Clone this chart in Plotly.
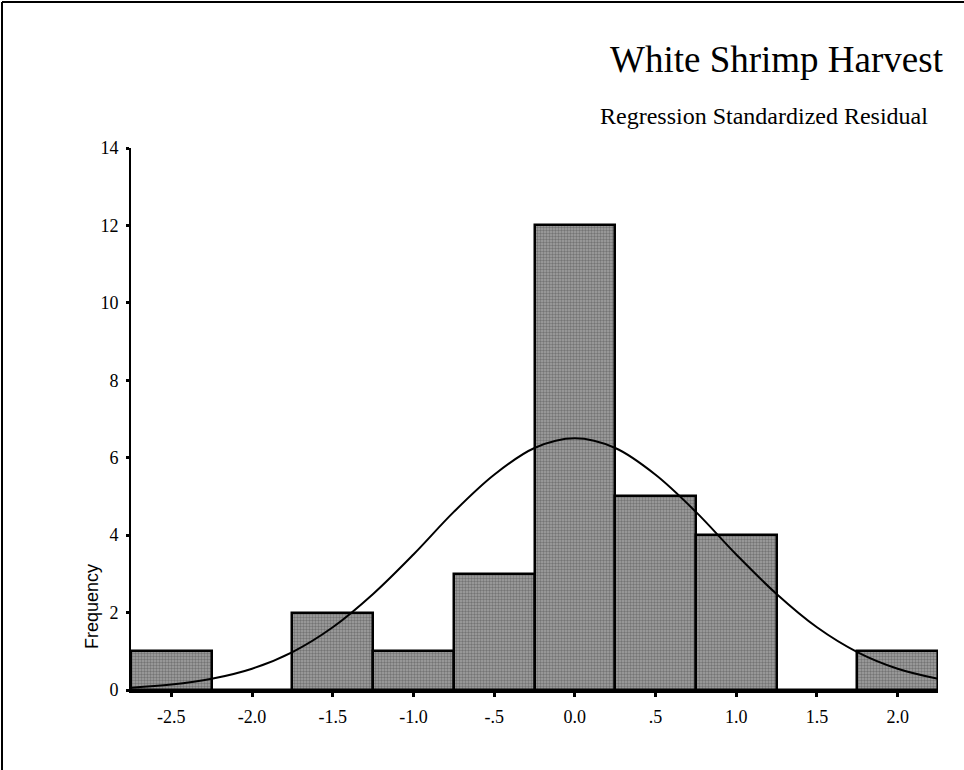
import plotly.graph_objects as go

# Histogram bins (centres) and frequencies
bin_centers = [-2.5, -2.0, -1.5, -1.0, -0.5, 0.0, 0.5, 1.0, 1.5, 2.0]
frequencies = [1, 0, 2, 1, 3, 12, 5, 4, 0, 1]
bin_width = 0.5

# Normal curve
curve_x = [-2.75, -2.5, -2.25, -2.0, -1.75, -1.5, -1.25, -1.0, -0.75, -0.5, -0.25,
           0.0, 0.25, 0.5, 0.75, 1.0, 1.25, 1.5, 1.75, 2.0, 2.25]
curve_y = [0.06, 0.14, 0.29, 0.55, 0.98, 1.62, 2.48, 3.5, 4.6, 5.56, 6.25,
           6.5, 6.25, 5.56, 4.6, 3.5, 2.48, 1.62, 0.98, 0.55, 0.29]

x_tick_vals = [-2.5, -2.0, -1.5, -1.0, -0.5, 0.0, 0.5, 1.0, 1.5, 2.0]
x_tick_text = ["-2.5", "-2.0", "-1.5", "-1.0", "-.5", "0.0", ".5", "1.0", "1.5", "2.0"]
y_tick_vals = [0, 2, 4, 6, 8, 10, 12, 14]

title_text = "White Shrimp Harvest"
subtitle_text = "Regression Standardized Residual"
y_label = "Frequency"

serif = "Liberation Serif, Times New Roman, serif"
sans = "Liberation Sans, Arial, sans-serif"

fig = go.Figure()
fig.add_trace(go.Bar(
    x=bin_centers, y=frequencies, width=bin_width,
    marker=dict(
        color="#8e8e8e",
        line=dict(color="black", width=2.5),
        pattern=dict(shape=".", fgcolor="#454545", bgcolor="#a2a2a2", size=3, solidity=0.5),
    ),
    showlegend=False, hoverinfo="x+y",
))
fig.add_trace(go.Scatter(
    x=curve_x, y=curve_y, mode="lines",
    line=dict(color="black", width=2, shape="spline", smoothing=1.0),
    showlegend=False,
))

W, H = 964, 770
L, R, T, B = 131, 26, 148, 80
pw, ph = W - L - R, H - T - B

def px(xp):
    return (xp - L) / pw

def py(yp):
    return (H - B - yp) / ph

fig.update_layout(
    width=W, height=H,
    margin=dict(l=L, r=R, t=T, b=B),
    paper_bgcolor="white", plot_bgcolor="white",
    bargap=0,
    xaxis=dict(
        range=[-2.75, 2.25], tickvals=x_tick_vals, ticktext=x_tick_text,
        showgrid=False, zeroline=False,
        showline=True, linecolor="black", linewidth=3,
        ticks="outside", ticklen=4, tickwidth=3, tickcolor="black",
        ticklabelstandoff=4,
        tickfont=dict(family=serif, size=18, color="black"),
    ),
    yaxis=dict(
        range=[0, 14], tickvals=y_tick_vals,
        showgrid=False, zeroline=False,
        showline=True, linecolor="black", linewidth=2,
        ticks="outside", ticklen=3, tickwidth=3, tickcolor="black",
        ticklabelstandoff=4,
        tickfont=dict(family=serif, size=18, color="black"),
    ),
    shapes=[
        dict(type="line", xref="paper", yref="paper", x0=px(2), x1=px(2), y0=py(2), y1=py(770), line=dict(color="black", width=2)),
        dict(type="line", xref="paper", yref="paper", x0=px(2), x1=px(964), y0=py(2), y1=py(2), line=dict(color="black", width=2)),
    ],
    annotations=[
        dict(text=title_text, xref="paper", yref="paper", x=px(946), y=py(60),
             xanchor="right", yanchor="middle", showarrow=False,
             font=dict(family=serif, size=37, color="black")),
        dict(text=subtitle_text, xref="paper", yref="paper", x=px(930), y=py(116),
             xanchor="right", yanchor="middle", showarrow=False,
             font=dict(family=serif, size=24, color="black")),
        dict(text=y_label, xref="paper", yref="paper", x=px(92), y=py(607),
             xanchor="center", yanchor="middle", showarrow=False, textangle=-90,
             font=dict(family=sans, size=18, color="black")),
    ],
)

fig.write_html("out.html", config={"displayModeBar": False},
               post_script="document.body.style.margin='0';")
